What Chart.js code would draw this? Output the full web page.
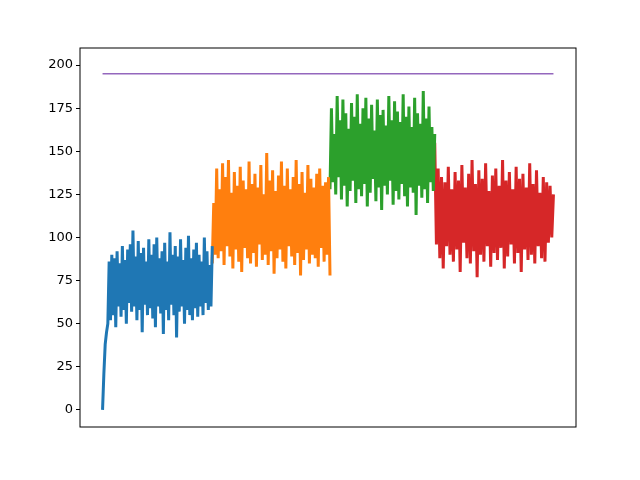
<!DOCTYPE html>
<html>
<head>
<meta charset="utf-8">
<script src="https://cdn.jsdelivr.net/npm/chart.js@4"></script>
<style>
  html, body { margin: 0; padding: 0; background: #fff; }
  #wrap { width: 640px; height: 480px; }
</style>
</head>
<body>
<div id="wrap"><canvas id="chart"></canvas></div>
<script>
// sample index where each run starts / ends
const segmentBounds = [0, 1100, 2280, 3330, 4520];

const blueValues = [0, 21, 38, 45, 50, 86, 52, 90, 55, 88, 48, 92, 60, 85, 54, 95, 58, 87, 50, 93, 62, 96, 57, 104, 60, 89, 52, 98, 58, 91, 45, 94, 61, 86, 55, 99, 59, 90, 53, 96, 48, 100, 60, 88, 56, 92, 44, 97, 58, 86, 52, 103, 61, 90, 55, 95, 42, 89, 57, 99, 60, 87, 50, 94, 58, 101, 55, 88, 52, 93, 59, 97, 54, 90, 60, 86, 55, 100, 62, 92, 58, 84, 60, 95];
const orangeValues = [85, 120, 90, 140, 88, 128, 92, 143, 84, 135, 95, 145, 89, 126, 82, 138, 93, 130, 86, 141, 80, 133, 94, 128, 88, 144, 85, 131, 91, 137, 83, 129, 96, 142, 87, 125, 90, 149, 84, 133, 92, 139, 79, 127, 88, 136, 93, 144, 86, 130, 82, 140, 95, 128, 89, 135, 84, 145, 91, 131, 78, 138, 87, 126, 93, 142, 85, 134, 90, 129, 88, 137, 83, 140, 94, 130, 86, 132, 90, 135, 78];
const greenValues = [128, 175, 132, 160, 125, 182, 135, 168, 122, 180, 130, 172, 118, 163, 127, 178, 133, 170, 120, 183, 128, 166, 124, 175, 131, 181, 118, 169, 126, 177, 134, 162, 121, 180, 129, 171, 116, 174, 130, 165, 125, 182, 133, 168, 119, 179, 127, 173, 122, 167, 131, 183, 124, 170, 118, 176, 129, 164, 126, 181, 113, 172, 130, 166, 123, 185, 128, 169, 120, 176, 132, 164, 127, 160];
const redValues = [155, 96, 140, 88, 135, 82, 132, 95, 141, 90, 128, 86, 138, 93, 133, 80, 142, 97, 129, 88, 137, 85, 145, 92, 131, 77, 139, 90, 134, 86, 143, 95, 127, 83, 136, 91, 140, 87, 130, 94, 145, 82, 133, 89, 138, 96, 128, 85, 141, 91, 134, 80, 137, 93, 129, 87, 143, 90, 131, 85, 139, 95, 126, 88, 135, 86, 132, 97, 130, 100, 125];
const limitValue = 195;

const colors = ['#1f77b4', '#ff7f0e', '#2ca02c', '#d62728', '#9467bd'];

function toPoints(values, start, end) {
  const step = (end - start) / (values.length - 1);
  return values.map((v, i) => ({ x: start + i * step, y: v }));
}

const series = [blueValues, orangeValues, greenValues, redValues];
const datasets = series.map((vals, i) => ({
  data: toPoints(vals, segmentBounds[i], segmentBounds[i + 1]),
  borderColor: colors[i],
  borderWidth: 3,
  pointRadius: 0,
  tension: 0
}));
datasets.push({
  data: [{ x: segmentBounds[0], y: limitValue }, { x: segmentBounds[4], y: limitValue }],
  borderColor: colors[4],
  borderWidth: 1.5,
  pointRadius: 0
});

const frame = {
  id: 'frame',
  afterDraw(chart) {
    const a = chart.chartArea, ctx = chart.ctx;
    ctx.save();
    ctx.strokeStyle = '#000';
    ctx.lineWidth = 1;
    ctx.strokeRect(a.left, a.top, a.right - a.left, a.bottom - a.top);
    ctx.restore();
  }
};

const span = segmentBounds[4] - segmentBounds[0];
new Chart(document.getElementById('chart'), {
  type: 'line',
  data: { datasets: datasets },
  options: {
    responsive: true,
    maintainAspectRatio: false,
    animation: false,
    layout: { padding: { top: 48, right: 64, bottom: 53, left: 0 } },
    plugins: { legend: { display: false }, tooltip: { enabled: false } },
    scales: {
      x: {
        type: 'linear',
        display: false,
        min: -0.05 * span,
        max: segmentBounds[4] + 0.05 * span
      },
      y: {
        min: -9.9,
        max: 209.9,
        grid: { display: true, drawOnChartArea: false, tickLength: 4, color: '#000' },
        border: { display: false },
        afterFit(scale) { scale.width = 80; },
        afterBuildTicks(scale) {
          scale.ticks = [0, 25, 50, 75, 100, 125, 150, 175, 200].map(v => ({ value: v }));
        },
        ticks: { color: '#000', font: { family: 'DejaVu Sans', size: 13 }, padding: 3 }
      }
    }
  },
  plugins: [frame]
});
</script>
</body>
</html>
